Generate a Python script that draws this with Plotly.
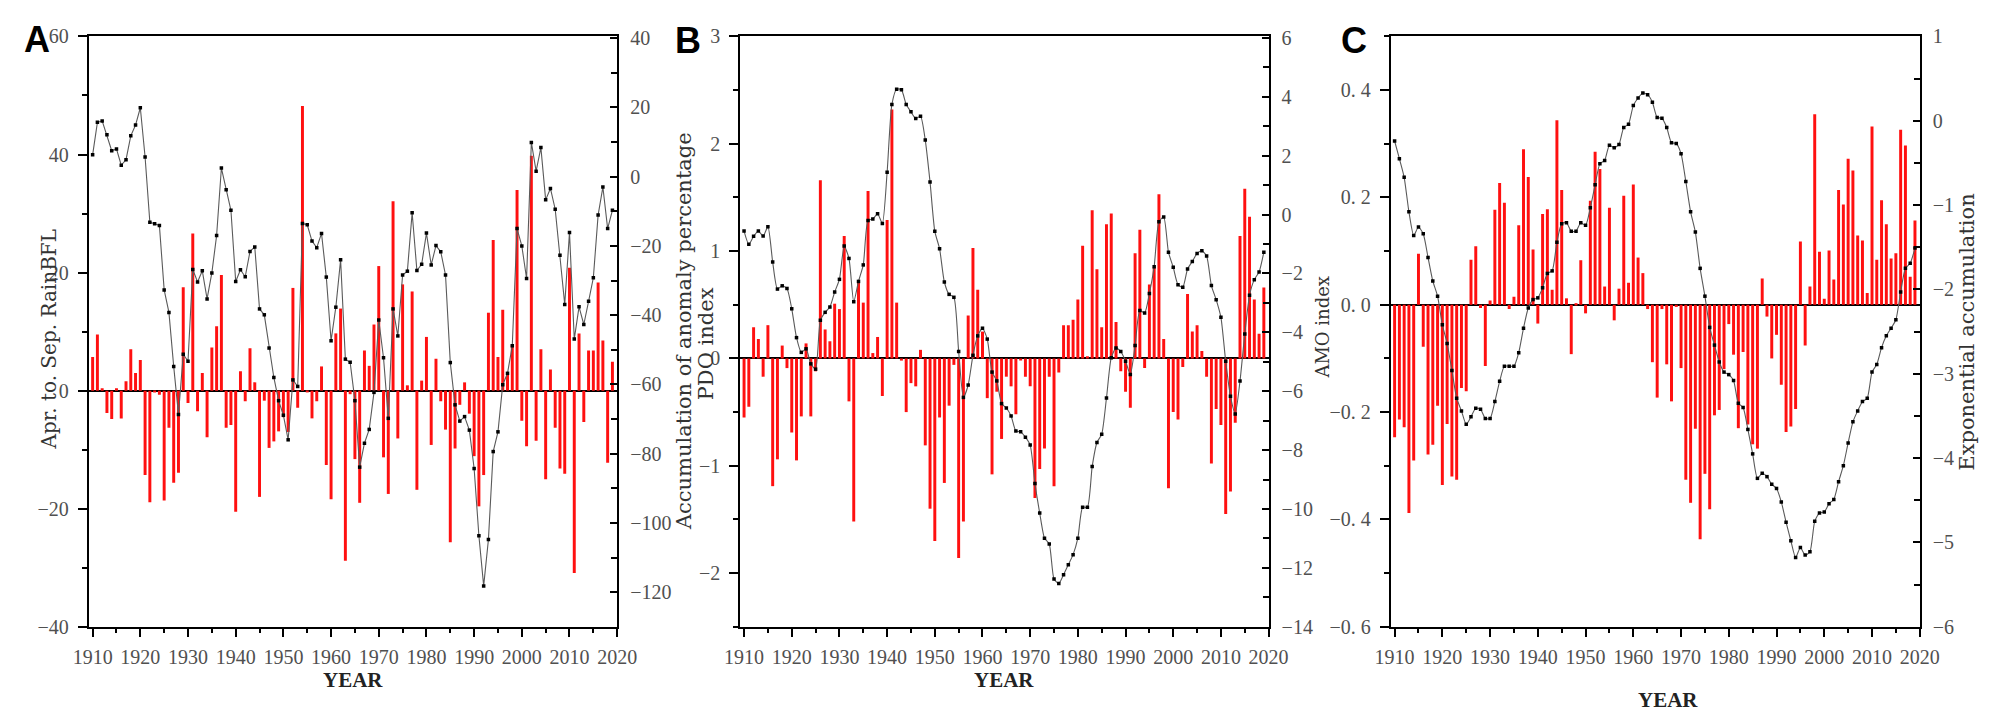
import plotly.graph_objects as go

# ---------------- data ----------------
years = list(range(1910, 2020))

# Panel A: Apr.-Sep. rainfall anomaly percentage (bars) and its accumulation (line)
rain_anom = [5.7, 9.5, 0.4, -3.8, -4.8, 0.4, -4.7, 1.6, 7.0, 3.0,
             5.2, -14.3, -18.9, -0.3, -0.7, -18.6, -6.3, -15.6, -13.9, 17.5,
             -2.1, 26.6, -3.5, 3.0, -7.9, 7.3, 10.9, 19.6, -6.3, -5.8,
             -20.5, 3.3, -1.8, 7.2, 1.4, -18.0, -1.7, -9.7, -8.6, -6.9,
             -4.5, -7.0, 17.4, -2.9, 48.2, -0.3, -4.7, -1.8, 4.1, -12.6,
             -18.4, 9.7, 13.9, -28.8, -0.6, -11.6, -19.0, 6.8, 4.2, 11.2,
             21.1, -11.3, -17.5, 32.1, -8.1, 18.0, 0.9, 16.8, -16.8, 1.7,
             9.1, -9.2, 5.4, -1.8, -6.6, -25.7, -9.8, -2.4, 1.4, -3.9,
             -11.1, -19.6, -14.3, 13.2, 25.5, 5.7, 13.7, 2.9, 7.7, 34.0,
             -5.1, -9.4, 39.8, -8.5, 7.0, -15.0, 3.6, -6.3, -13.2, -14.1,
             20.8, -30.9, 9.7, -5.3, 6.8, 6.8, 18.3, 8.5, -12.2, 4.9]
rain_accum = [6.3, 15.7, 16.1, 12.1, 7.5, 8.0, 3.3, 4.9, 11.8, 14.9,
              19.9, 5.7, -13.2, -13.6, -14.1, -32.7, -39.2, -54.8, -68.7, -51.3,
              -53.3, -26.8, -30.4, -27.2, -35.3, -27.8, -17.0, 2.5, -3.8, -9.7,
              -30.3, -26.9, -28.9, -21.6, -20.3, -38.2, -39.9, -49.5, -58.0, -64.7,
              -68.9, -76.0, -58.7, -60.6, -13.5, -13.9, -18.6, -20.5, -16.4, -29.0,
              -47.4, -37.7, -24.0, -52.7, -53.6, -64.7, -83.9, -77.0, -73.0, -62.3,
              -41.4, -52.3, -69.8, -38.2, -46.0, -28.4, -27.3, -10.4, -27.1, -25.3,
              -16.3, -25.5, -19.9, -21.7, -28.4, -53.7, -65.9, -70.6, -69.3, -73.2,
              -84.3, -103.7, -118.2, -104.8, -79.4, -73.7, -60.1, -56.8, -48.8, -15.0,
              -20.0, -29.4, 9.9, 1.6, 8.4, -6.7, -3.4, -9.4, -22.7, -36.9,
              -16.1, -46.9, -37.6, -42.7, -36.0, -29.2, -11.1, -3.0, -15.0, -9.7]

# Panel B: PDO index (bars) and its accumulation (line)
pdo_index = [-0.55, -0.45, 0.29, 0.18, -0.17, 0.31, -1.19, -0.94, 0.12, -0.09,
             -0.69, -0.95, -0.54, 0.14, -0.54, -0.12, 1.66, 0.27, 0.16, 0.51,
             0.46, 1.14, -0.40, -1.52, 0.73, 0.52, 1.56, 0.05, 0.20, -0.35,
             1.29, 2.32, 0.52, -0.02, -0.50, -0.23, -0.26, 0.08, -0.81, -1.40,
             -1.70, -0.55, -1.16, -0.44, -0.06, -1.86, -1.52, 0.40, 1.03, 0.64,
             0.25, -0.37, -1.08, -0.31, -0.75, -0.17, -0.26, -0.52, -0.02, -0.17,
             -0.26, -1.30, -1.03, -0.84, -0.17, -1.19, -0.13, 0.31, 0.31, 0.36,
             0.55, 1.05, 0.02, 1.38, 0.83, 0.29, 1.25, 1.35, 0.34, -0.12,
             -0.31, -0.46, 0.98, 1.20, -0.09, 0.69, 0.85, 1.53, 0.18, -1.21,
             -0.50, -0.57, -0.08, 0.60, 0.25, 0.31, 0.07, -0.17, -0.98, -0.47,
             -0.62, -1.45, -1.24, -0.60, 1.14, 1.58, 1.32, 0.55, 0.23, 0.66]
pdo_accum = [-0.56, -1.01, -0.74, -0.56, -0.73, -0.41, -1.61, -2.53, -2.42, -2.51,
             -3.20, -4.18, -4.68, -4.56, -5.07, -5.25, -3.59, -3.32, -3.14, -2.63,
             -2.20, -1.07, -1.49, -2.96, -2.27, -1.71, -0.20, -0.15, 0.03, -0.30,
             1.44, 3.74, 4.26, 4.24, 3.74, 3.49, 3.26, 3.34, 2.53, 1.11,
             -0.57, -1.16, -2.29, -2.71, -2.81, -4.65, -6.21, -5.79, -4.78, -4.12,
             -3.86, -4.23, -5.35, -5.65, -6.42, -6.57, -6.84, -7.35, -7.38, -7.56,
             -7.83, -9.13, -10.14, -10.99, -11.19, -12.38, -12.53, -12.23, -11.89, -11.55,
             -10.99, -9.94, -9.94, -8.56, -7.74, -7.46, -6.23, -4.86, -4.53, -4.65,
             -4.98, -5.43, -4.45, -3.26, -3.34, -2.68, -1.77, -0.24, -0.08, -1.28,
             -1.79, -2.38, -2.47, -1.85, -1.59, -1.32, -1.23, -1.41, -2.41, -2.89,
             -3.49, -4.98, -6.17, -6.77, -5.65, -4.06, -2.74, -2.21, -1.95, -1.28]

# Panel C: AMO index (bars) and exponential accumulation (line)
amo_index = [-0.247, -0.214, -0.228, -0.388, -0.290, 0.095, -0.078, -0.279, -0.261, -0.188,
             -0.336, -0.222, -0.320, -0.326, -0.155, -0.161, 0.084, 0.109, -0.006, -0.114,
             0.008, 0.177, 0.227, 0.190, -0.008, 0.015, 0.148, 0.290, 0.238, 0.103,
             -0.035, 0.169, 0.178, 0.028, 0.344, 0.214, 0.012, -0.092, 0.003, 0.083,
             -0.016, 0.194, 0.285, 0.253, 0.034, 0.181, -0.029, 0.030, 0.203, 0.041,
             0.224, 0.088, 0.059, -0.008, -0.107, -0.173, -0.008, -0.111, -0.180, -0.004,
             -0.118, -0.326, -0.369, -0.231, -0.437, -0.315, -0.381, -0.206, -0.196, -0.120,
             -0.036, -0.093, -0.230, -0.088, -0.223, -0.260, -0.268, 0.049, -0.022, -0.100,
             -0.056, -0.149, -0.237, -0.227, -0.194, 0.118, -0.076, 0.034, 0.355, 0.099,
             0.011, 0.101, 0.047, 0.214, 0.187, 0.272, 0.250, 0.129, 0.120, 0.022,
             0.332, 0.084, 0.195, 0.150, 0.086, 0.096, 0.326, 0.297, 0.052, 0.157]
amo_accum = [-0.24, -0.45, -0.67, -1.08, -1.36, -1.26, -1.34, -1.62, -1.90, -2.08,
             -2.42, -2.64, -2.96, -3.29, -3.44, -3.60, -3.51, -3.41, -3.42, -3.53,
             -3.53, -3.33, -3.09, -2.91, -2.91, -2.91, -2.75, -2.46, -2.22, -2.12,
             -2.10, -1.98, -1.81, -1.78, -1.44, -1.22, -1.21, -1.31, -1.31, -1.21,
             -1.24, -1.03, -0.76, -0.51, -0.47, -0.29, -0.32, -0.28, -0.08, -0.04,
             0.18, 0.27, 0.33, 0.31, 0.22, 0.04, 0.03, -0.08, -0.26, -0.27,
             -0.39, -0.72, -1.08, -1.32, -1.75, -2.08, -2.45, -2.66, -2.86, -2.98,
             -3.01, -3.08, -3.35, -3.40, -3.66, -3.95, -4.24, -4.18, -4.22, -4.31,
             -4.36, -4.52, -4.76, -4.98, -5.18, -5.06, -5.15, -5.11, -4.75, -4.65,
             -4.64, -4.54, -4.49, -4.28, -4.09, -3.82, -3.57, -3.44, -3.33, -3.29,
             -2.98, -2.89, -2.69, -2.55, -2.46, -2.36, -2.03, -1.75, -1.69, -1.51]

year_ticks = list(range(1910, 2021, 10))
amo_tickvals = [0.4, 0.2, 0.0, -0.2, -0.4, -0.6]
amo_ticktext = ["0. 4", "0. 2", "0. 0", "\u22120. 2", "\u22120. 4", "\u22120. 6"]

# ---------------- layout helpers ----------------
W, H = 2011, 717
def fx(px):
    return px / W
def fy(py):
    return 1 - py / H

YDOM = [fy(627), fy(18)]
TICKFONT = dict(family="Liberation Serif", size=20, color="#505050")
TITLEFONT = dict(family="DejaVu Serif", size=21, color="#333333")
RED = "#ff1010"

panels = [
    dict(xd=(66, 604), bars=rain_anom, line=rain_accum, lrange=[-40, 60], ldtick=20, lminor=10,
         rrange=[-130, 40.5], rtick0=-120, rdtick=20, rminor=10, shape="linear"),
    dict(xd=(729.3, 1267.3), bars=pdo_index, line=pdo_accum, lrange=[-2.5, 3.0], ldtick=1, lminor=0.5,
         rrange=[-14, 6.05], rtick0=-14, rdtick=2, rminor=1, shape="spline"),
    dict(xd=(1391.7, 1930.3), bars=amo_index, line=amo_accum, lrange=[-0.6, 0.5], ldtick=0.2, lminor=0.1,
         rrange=[-6, 1.0], rtick0=-6, rdtick=1, rminor=0.5, shape="spline"),
]

fig = go.Figure()
layout = dict(width=W, height=H, margin=dict(l=0, r=0, t=0, b=0), autosize=False,
              paper_bgcolor="white", plot_bgcolor="white", showlegend=False,
              bargap=0.4)

for i, p in enumerate(panels):
    xn = "" if i == 0 else str(i + 1)
    yl = str(2 * i + 1) if i > 0 else ""
    yr = str(2 * i + 2)
    xref = "x" + xn
    ylref = "y" + yl
    yrref = "y" + yr

    fig.add_trace(go.Bar(x=years, y=p["bars"], xaxis=xref, yaxis=ylref,
                         marker=dict(color=RED, line=dict(width=0)), width=0.62))
    fig.add_trace(go.Scatter(x=years, y=p["line"], xaxis=xref, yaxis=yrref, mode="lines+markers",
                             line=dict(color="#5a5a5a", width=1.1, shape=p["shape"], smoothing=0.6),
                             marker=dict(symbol="square", size=3.5, color="black")))

    layout["xaxis" + xn] = dict(
        domain=[fx(p["xd"][0]), fx(p["xd"][1])], anchor=ylref, range=[1909.2, 2020],
        tickmode="array", tickvals=year_ticks, ticks="outside", ticklen=8, tickwidth=1.5,
        tickcolor="black", showline=True, linecolor="black", linewidth=2, mirror=True,
        showgrid=False, zeroline=False, tickfont=TICKFONT, ticklabelstandoff=3,
        minor=dict(tick0=1905, dtick=5, ticks="outside", ticklen=4, tickwidth=1.5, tickcolor="black"))
    layout["yaxis" + yl] = dict(
        domain=YDOM, anchor=xref, range=p["lrange"], dtick=p["ldtick"], tick0=0,
        ticks="outside", ticklen=9, tickwidth=1.5, tickcolor="black",
        showline=True, linecolor="black", linewidth=2, showgrid=False,
        zeroline=True, zerolinecolor="black", zerolinewidth=2,
        tickfont=TICKFONT, ticklabelstandoff=5,
        minor=dict(tick0=0, dtick=p["lminor"], ticks="outside", ticklen=5, tickwidth=1.5, tickcolor="black"))
    if i == 2:
        layout["yaxis" + yl].update(tickmode="array", tickvals=amo_tickvals, ticktext=amo_ticktext)
    layout["yaxis" + yr] = dict(
        overlaying=ylref, side="right", anchor=xref, range=p["rrange"],
        tick0=p["rtick0"], dtick=p["rdtick"], ticks="inside", ticklen=7, tickwidth=1.5,
        tickcolor="black", showline=True, linecolor="black", linewidth=2, showgrid=False,
        zeroline=False, tickfont=TICKFONT, ticklabelstandoff=7,
        minor=dict(tick0=p["rtick0"], dtick=p["rminor"], ticks="inside", ticklen=6,
                   tickwidth=1.5, tickcolor="black"))

ann = []
def add_text(text, x, y, font, angle=0, xanchor="center"):
    ann.append(dict(text=text, x=fx(x), y=fy(y), xref="paper", yref="paper",
                    showarrow=False, font=font, textangle=angle, xanchor=xanchor, yanchor="middle"))

LETTER = dict(family="Liberation Sans", size=36, color="black", weight="bold")
add_text("<b>A</b>", 13, 21, LETTER)
add_text("<b>B</b>", 676, 22, LETTER)
add_text("<b>C</b>", 1354, 22, LETTER)

add_text("Apr. to. Sep. RainBFL", 25, 331, dict(family="DejaVu Serif", size=20, color="#333333"), -90)
add_text("Accumulation of anomaly percentage", 672, 322, TITLEFONT, -90)
add_text("PDO index", 694, 335, TITLEFONT, -90)
add_text("AMO index", 1322, 318, dict(family="DejaVu Serif", size=18, color="#333333"), -90)
add_text("Exponential accumulation", 1979, 323, TITLEFONT, -90)

YEARFONT = dict(family="Liberation Serif", size=21, color="#222222")
add_text("<b>YEAR</b>", 335, 682, YEARFONT)
add_text("<b>YEAR</b>", 998, 682, YEARFONT)
add_text("<b>YEAR</b>", 1674, 703, YEARFONT)

layout["annotations"] = ann
fig.update_layout(**layout)
fig.write_html("out.html")
